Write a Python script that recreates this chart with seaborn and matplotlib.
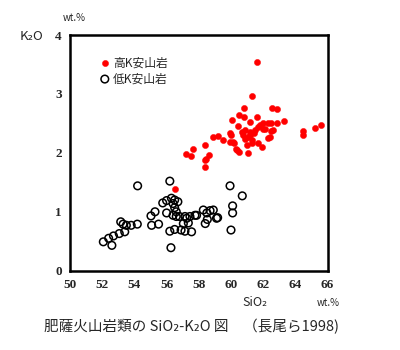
import matplotlib
matplotlib.use("Agg")
import matplotlib.pyplot as plt
import seaborn as sns
import pandas as pd

# ---- data ----
high_k_sio2 = [56.5, 58.4, 58.4, 58.43, 58.65, 57.2, 57.5, 57.66, 58.4, 58.9,
               59.2, 59.5, 59.94, 59.94, 60.19, 60.3, 60.5, 60.35, 61.08, 61.0,
               61.3, 61.7, 61.9, 60.1, 60.0, 60.76, 61.08, 61.4, 60.9, 61.18,
               61.5, 61.7, 60.46, 61.18, 61.6, 60.8, 60.52, 60.04, 60.81, 61.29,
               61.6, 62.53, 62.84, 62.0, 62.3, 62.5, 62.84, 63.27, 62.0, 62.5,
               62.4, 62.3, 61.8, 64.5, 64.45, 65.2, 65.57, 60.9, 61.2, 61.3,
               60.7, 62.1, 62.6]
high_k_k2o = [1.38, 1.76, 1.88, 1.90, 1.96, 1.98, 1.94, 2.06, 2.13, 2.27,
              2.29, 2.22, 2.33, 2.19, 2.17, 2.07, 2.02, 2.05, 1.99, 2.13,
              2.16, 2.16, 2.10, 2.19, 2.30, 2.30, 2.27, 2.33, 2.38, 2.36,
              2.38, 2.44, 2.45, 2.53, 2.60, 2.60, 2.64, 2.55, 2.76, 2.96,
              3.54, 2.76, 2.74, 2.51, 2.51, 2.50, 2.51, 2.54, 2.41, 2.37,
              2.27, 2.25, 2.47, 2.37, 2.30, 2.42, 2.47, 2.24, 2.30, 2.22,
              2.35, 2.41, 2.38]

low_k_sio2 = [52.07, 52.4, 52.6, 52.7, 53.06, 53.4, 53.15, 53.3, 53.5, 53.8,
              54.18, 54.2, 55.07, 55.5, 55.03, 55.28, 56.2, 55.76, 56.0, 56.3,
              56.5, 56.4, 56.7, 56.0, 56.4, 56.6, 56.8, 56.6, 56.2, 56.5,
              56.27, 57.14, 57.55, 57.04, 57.35, 57.14, 57.45, 57.76, 58.28, 58.5,
              58.9, 59.17, 58.4, 58.53, 59.94, 60.7, 60.1, 60.1, 60.0, 56.5,
              56.9, 57.86, 57.25, 58.7, 59.1]
low_k_k2o = [0.49, 0.55, 0.43, 0.59, 0.63, 0.66, 0.83, 0.79, 0.77, 0.77,
             0.79, 1.44, 0.77, 0.79, 0.93, 1.00, 1.52, 1.15, 1.19, 1.23,
             1.20, 1.14, 1.17, 0.98, 0.94, 1.00, 0.92, 0.92, 0.67, 0.70,
             0.39, 0.67, 0.66, 0.80, 0.81, 0.92, 0.92, 0.94, 1.03, 0.98,
             1.03, 0.90, 0.80, 0.87, 1.44, 1.27, 1.10, 0.98, 0.69, 1.07,
             0.69, 0.94, 0.89, 1.02, 0.89]

series_labels = ["高K安山岩", "低K安山岩"]
x_ticks = [50, 52, 54, 56, 58, 60, 62, 64, 66]
y_ticks = [0, 1, 2, 3, 4]
title_text = "肥薩火山岩類の SiO₂-K₂O 図　（長尾ら1998)"

high_df = pd.DataFrame({"SiO2": high_k_sio2, "K2O": high_k_k2o})
low_df = pd.DataFrame({"SiO2": low_k_sio2, "K2O": low_k_k2o})

sns.set_style("white")
plt.rcParams["font.family"] = ["Noto Sans CJK JP", "DejaVu Sans"]

fig = plt.figure(figsize=(4, 3.5), dpi=100)
ax = fig.add_axes([0.175, 0.2266, 0.644, 0.6734])

sns.scatterplot(data=low_df, x="SiO2", y="K2O", ax=ax, s=30,
                facecolors="none", edgecolor="black", linewidth=1.1,
                label=series_labels[1], zorder=2)
sns.scatterplot(data=high_df, x="SiO2", y="K2O", ax=ax, s=20,
                color="#ff0000", edgecolor="#ff0000", linewidth=0.3,
                label=series_labels[0], zorder=3)

ax.set_xlim(50, 66)
ax.set_ylim(0, 4)
ax.set_xticks(x_ticks)
ax.set_yticks(y_ticks)
ax.set_xticklabels([str(v) for v in x_ticks])
ax.set_yticklabels([str(v) for v in y_ticks])
ax.set_xlabel("")
ax.set_ylabel("")

for sp in ax.spines.values():
    sp.set_visible(True)
    sp.set_linewidth(1.8)
    sp.set_color("black")

ax.tick_params(axis="both", direction="out", length=4, width=1.6,
               color="black", pad=2)
for lab in ax.get_xticklabels() + ax.get_yticklabels():
    lab.set_family("Liberation Serif")
    lab.set_fontweight("bold")
    lab.set_fontsize(9.5)

handles, labels = ax.get_legend_handles_labels()
order = [labels.index(series_labels[0]), labels.index(series_labels[1])]
leg = ax.legend([handles[i] for i in order], [labels[i] for i in order],
                loc="upper left", bbox_to_anchor=(0.103, 0.93), frameon=False,
                handlelength=0.6, handletextpad=0.4, labelspacing=0.25,
                fontsize=8.5, borderaxespad=0)

# axis labels placed like the reference
fig.text(20 / 400, 1 - 37 / 350, "K₂O", fontsize=9.5, ha="left", va="center")
fig.text(63 / 400, 1 - 18 / 350, "wt.%", fontsize=7, ha="left", va="center")
fig.text(255 / 400, 1 - 302 / 350, "SiO₂", fontsize=9, ha="center", va="center")
fig.text(328 / 400, 1 - 303 / 350, "wt.%", fontsize=7, ha="center", va="center")
fig.text(192 / 400, 1 - 327 / 350, title_text, fontsize=10.5,
         ha="center", va="center")

fig.savefig("out.png", dpi=100)
